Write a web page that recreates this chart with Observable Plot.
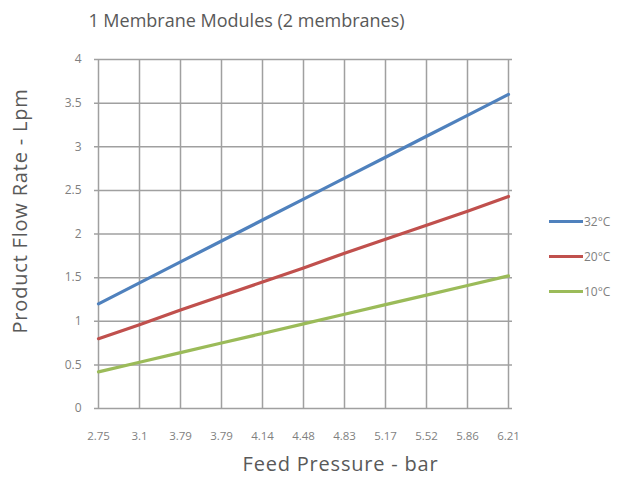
<!DOCTYPE html>
<html>
<head>
<meta charset="utf-8">
<script src="https://cdn.jsdelivr.net/npm/d3@7"></script>
<script src="https://cdn.jsdelivr.net/npm/@observablehq/plot@0.6"></script>
<style>
  html, body { margin: 0; padding: 0; background: #fff; }
  #wrap { position: relative; width: 619px; height: 487px; font-family: "Open Sans", sans-serif; }
  #legend { position: absolute; left: 549px; top: 204px; font-family: "Open Sans", sans-serif; font-size: 12px; color: #7f7f7f; }
  .item { display: flex; align-items: center; height: 35px; }
  .sw { width: 34px; height: 3px; margin-right: 1px; }
</style>
</head>
<body>
<div id="wrap"><div id="legend"></div></div>
<script>
const title = "1 Membrane Modules (2 membranes)";
const xTitle = "Feed Pressure - bar";
const yTitle = "Product Flow Rate - Lpm";
const pressureLabels = ["2.75", "3.1", "3.79", "3.79", "4.14", "4.48", "4.83", "5.17", "5.52", "5.86", "6.21"];
const yTicks = [0, 0.5, 1, 1.5, 2, 2.5, 3, 3.5, 4];
const seriesNames = ["32°C", "20°C", "10°C"];
const seriesColors = ["#4f81bd", "#c0504d", "#9bbb59"];
const flow32 = [1.20, 1.44, 1.68, 1.92, 2.16, 2.40, 2.64, 2.88, 3.12, 3.36, 3.60];
const flow20 = [0.80, 0.96, 1.13, 1.29, 1.45, 1.61, 1.78, 1.94, 2.10, 2.26, 2.43];
const flow10 = [0.42, 0.53, 0.64, 0.75, 0.86, 0.97, 1.08, 1.19, 1.30, 1.41, 1.52];

const seriesValues = [flow32, flow20, flow10];
const rows = [];
seriesValues.forEach((vals, s) => vals.forEach((v, i) => rows.push({i, v, series: seriesNames[s]})));
const idx = pressureLabels.map((_, i) => i);

const chart = Plot.plot({
  width: 619,
  height: 487,
  marginLeft: 94,
  marginRight: 107,
  marginTop: 59,
  marginBottom: 79,
  style: { fontFamily: "Open Sans, sans-serif", fontSize: "11px", color: "#7f7f7f", background: "#fff" },
  x: { type: "point", domain: idx, padding: 0 },
  y: { domain: [0, 4] },
  color: { domain: seriesNames, range: seriesColors },
  marks: [
    Plot.ruleX(idx, { stroke: "#a0a0a0", strokeWidth: 1.5 }),
    Plot.ruleY(yTicks, { stroke: "#a0a0a0", strokeWidth: 1.5 }),
    Plot.axisX(idx, { tickSize: 0, tickPadding: 23, tickFormat: i => pressureLabels[i], fill: "#7f7f7f", label: null, fontSize: 11.5 }),
    Plot.axisY(yTicks, { tickSize: 0, tickPadding: 13, tickFormat: d => String(d), fill: "#7f7f7f", label: null, fontSize: 12 }),
    Plot.line(rows, { x: "i", y: "v", z: "series", stroke: "series", strokeWidth: 3.2 }),
    Plot.text([title], { frameAnchor: "top", textAnchor: "middle", dx: -57, dy: -45, fontSize: 18, fill: "#595959", fontFamily: "Open Sans, sans-serif" }),
    Plot.text([xTitle], { frameAnchor: "bottom", textAnchor: "middle", dx: 37, dy: 62, fontSize: 20, fill: "#595959", fontFamily: "Open Sans, sans-serif" }),
    Plot.text([yTitle], { frameAnchor: "left", textAnchor: "middle", rotate: -90, dx: -74, dy: -23, fontSize: 20, fill: "#595959", fontFamily: "Open Sans, sans-serif" })
  ]
});
d3.select(chart).selectAll("text")
  .filter(function() { return this.textContent === xTitle || this.textContent === yTitle; })
  .style("letter-spacing", "0.8px");
document.getElementById("wrap").prepend(chart);

const legend = document.getElementById("legend");
seriesNames.forEach((name, k) => {
  const item = document.createElement("div");
  item.className = "item";
  const sw = document.createElement("span");
  sw.className = "sw";
  sw.style.background = seriesColors[k];
  const t = document.createElement("span");
  t.textContent = name;
  item.append(sw, t);
  legend.append(item);
});
</script>
</body>
</html>
